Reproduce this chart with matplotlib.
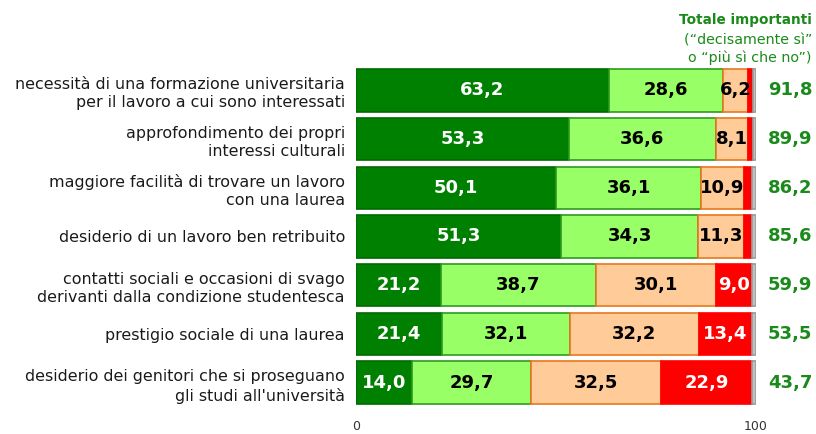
import matplotlib
matplotlib.use("Agg")
import matplotlib.pyplot as plt
import numpy as np

categories = [
    "necessità di una formazione universitaria\nper il lavoro a cui sono interessati",
    "approfondimento dei propri\ninteressi culturali",
    "maggiore facilità di trovare un lavoro\ncon una laurea",
    "desiderio di un lavoro ben retribuito",
    "contatti sociali e occasioni di svago\nderivanti dalla condizione studentesca",
    "prestigio sociale di una laurea",
    "desiderio dei genitori che si proseguano\ngli studi all'università",
]
decisamente_si = [63.2, 53.3, 50.1, 51.3, 21.2, 21.4, 14.0]
piu_si_che_no = [28.6, 36.6, 36.1, 34.3, 38.7, 32.1, 29.7]
piu_no_che_si = [6.2, 8.1, 10.9, 11.3, 30.1, 32.2, 32.5]
decisamente_no = [1.2, 1.2, 2.0, 2.2, 9.0, 13.4, 22.9]
non_risponde = [0.8, 0.8, 0.9, 0.9, 1.0, 0.9, 0.9]
totale_importanti = [91.8, 89.9, 86.2, 85.6, 59.9, 53.5, 43.7]
tick_values = [0, 100]
header_lines = ["Totale importanti", "(“decisamente sì”", "o “più sì che no”)"]

series = [decisamente_si, piu_si_che_no, piu_no_che_si, decisamente_no, non_risponde]
face_colors = ["#008000", "#99ff66", "#ffcc99", "#ff0000", "#c0c0c0"]
edge_colors = ["#006a00", "#2f9a1f", "#e8781e", "#ff0000", "#9a9a9a"]
text_colors = ["white", "black", "black", "white", None]
green_text = "#1a8a1a"

fig = plt.figure(figsize=(8.16, 4.34), dpi=100)
ax = fig.add_axes([356 / 816, 27 / 434, 400 / 816, 341 / 434])

y = np.arange(len(categories))
left = np.zeros(len(categories))
for vals, fc, ec, tc in zip(series, face_colors, edge_colors, text_colors):
    vals = np.array(vals)
    ax.barh(y, vals, left=left, height=0.87, color=fc, edgecolor=ec, linewidth=1.2)
    if tc is not None:
        for i, v in enumerate(vals):
            if v >= 5:
                ax.text(left[i] + v / 2, y[i], f"{v:.1f}".replace(".", ","),
                        ha="center", va="center", color=tc,
                        fontsize=13, fontweight="bold")
    left += vals

for i, t in enumerate(totale_importanti):
    ax.text(108.5, y[i], f"{t:.1f}".replace(".", ","), ha="center", va="center",
            color=green_text, fontsize=13, fontweight="bold", clip_on=False)

ax.set_xlim(0, 100)
ax.set_ylim(len(categories) - 0.5, -0.5)
ax.set_yticks(y)
ax.set_yticklabels(categories, fontsize=11.4, color="#1a1a1a", linespacing=1.3)
ax.set_xticks(tick_values)
ax.set_xticklabels([str(v) for v in tick_values], fontsize=9, color="#333333")
ax.tick_params(axis="y", length=0, pad=8)
ax.tick_params(axis="x", length=0, pad=9)
for s in ax.spines.values():
    s.set_visible(False)

fig.text(812 / 816, 1 - 20 / 434, header_lines[0], ha="right", va="center",
         color=green_text, fontsize=9.8, fontweight="bold")
fig.text(812 / 816, 1 - 40 / 434, header_lines[1], ha="right", va="center",
         color=green_text, fontsize=10.3)
fig.text(812 / 816, 1 - 58 / 434, header_lines[2], ha="right", va="center",
         color=green_text, fontsize=10.3)

fig.savefig("out.png", dpi=100)
